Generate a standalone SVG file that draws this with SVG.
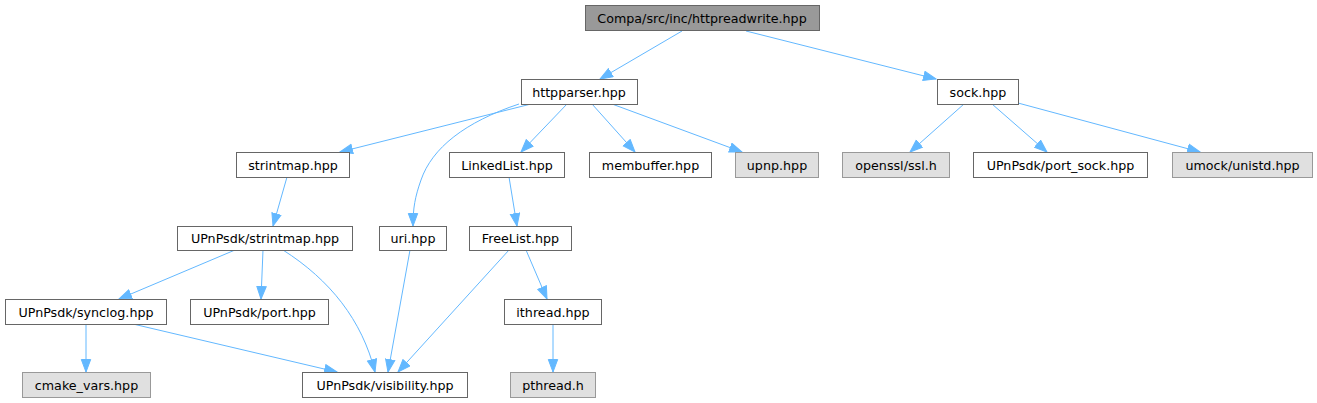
<svg xmlns="http://www.w3.org/2000/svg" width="1317" height="403" viewBox="0 0 1317 403">
<style>
.n rect{fill:#ffffff;stroke:#666666;stroke-width:1}
.n.g rect{fill:#e0e0e0;stroke:#999999}
.n.r rect{fill:#999999;stroke:#666666}
.n text{font-family:"DejaVu Sans",Verdana,sans-serif;font-size:12.7px;fill:#000000;text-anchor:middle}
#edges path{fill:none;stroke:#63b8ff;stroke-width:1;marker-end:url(#ah)}
</style>
<defs>
<marker id="ah" markerUnits="userSpaceOnUse" markerWidth="15" markerHeight="12" refX="13" refY="5.5" orient="auto">
<path d="M0.5,0.8 L13,5.5 L0.5,10.2 z" fill="#63b8ff" stroke="#63b8ff" stroke-width="1"/>
</marker>
</defs>
<rect width="1317" height="403" fill="#ffffff"/>
<g id="edges">
<path d="M682,31 L600,79"/>
<path d="M746,31 L936,79"/>
<path d="M531,104 L340,152"/>
<path d="M519,104 C465,122 432,148 421,180 C415,197 413,208 413,226"/>
<path d="M567,104 L521,152"/>
<path d="M592,104 L635,152"/>
<path d="M612,104 L742,152"/>
<path d="M287,177 L273,226"/>
<path d="M235,250 L119,299"/>
<path d="M263,250 L261,299"/>
<path d="M283,250 C330,280 362,320 375,372"/>
<path d="M410,250 L388,372"/>
<path d="M133,324 L337,372"/>
<path d="M86,324 L86,372"/>
<path d="M509,177 L517,226"/>
<path d="M509,250 L398,372"/>
<path d="M526,250 L547,299"/>
<path d="M553,324 L553,372"/>
<path d="M964,104 L910,152"/>
<path d="M992,104 L1047,152"/>
<path d="M1018,103 L1200,152"/>
</g>
<g id="n_root" class="n r"><rect x="585.5" y="5.5" width="234" height="25"/><text x="702" y="22.5">Compa/src/inc/httpreadwrite.hpp</text></g>
<g id="n_httpparser" class="n"><rect x="521.5" y="79.5" width="116" height="25"/><text x="579" y="96.5">httpparser.hpp</text></g>
<g id="n_sock" class="n"><rect x="937.5" y="79.5" width="81" height="25"/><text x="978" y="96.5">sock.hpp</text></g>
<g id="n_strintmap" class="n"><rect x="236.5" y="152.5" width="113" height="25"/><text x="293" y="169.5">strintmap.hpp</text></g>
<g id="n_linkedlist" class="n"><rect x="449.5" y="152.5" width="115" height="25"/><text x="507" y="169.5">LinkedList.hpp</text></g>
<g id="n_membuffer" class="n"><rect x="589.5" y="152.5" width="122" height="25"/><text x="650.5" y="169.5">membuffer.hpp</text></g>
<g id="n_upnp" class="n g"><rect x="735.5" y="152.5" width="83" height="25"/><text x="777" y="169.5">upnp.hpp</text></g>
<g id="n_openssl" class="n g"><rect x="842.5" y="152.5" width="107" height="25"/><text x="896" y="169.5">openssl/ssl.h</text></g>
<g id="n_portsock" class="n"><rect x="973.5" y="152.5" width="174" height="25"/><text x="1060.5" y="169.5">UPnPsdk/port_sock.hpp</text></g>
<g id="n_unistd" class="n g"><rect x="1172.5" y="152.5" width="140" height="25"/><text x="1242.5" y="169.5">umock/unistd.hpp</text></g>
<g id="n_sdkstrintmap" class="n"><rect x="177.5" y="226.5" width="175" height="24"/><text x="265" y="243">UPnPsdk/strintmap.hpp</text></g>
<g id="n_uri" class="n"><rect x="379.5" y="226.5" width="67" height="24"/><text x="413" y="243">uri.hpp</text></g>
<g id="n_freelist" class="n"><rect x="469.5" y="226.5" width="102" height="24"/><text x="520.5" y="243">FreeList.hpp</text></g>
<g id="n_synclog" class="n"><rect x="5.5" y="299.5" width="161" height="25"/><text x="86" y="316.5">UPnPsdk/synclog.hpp</text></g>
<g id="n_port" class="n"><rect x="190.5" y="299.5" width="138" height="25"/><text x="259.5" y="316.5">UPnPsdk/port.hpp</text></g>
<g id="n_ithread" class="n"><rect x="504.5" y="299.5" width="97" height="25"/><text x="553" y="316.5">ithread.hpp</text></g>
<g id="n_cmake" class="n g"><rect x="22.5" y="372.5" width="128" height="25"/><text x="86.5" y="389.5">cmake_vars.hpp</text></g>
<g id="n_visibility" class="n"><rect x="302.5" y="372.5" width="165" height="25"/><text x="385" y="389.5">UPnPsdk/visibility.hpp</text></g>
<g id="n_pthread" class="n g"><rect x="510.5" y="372.5" width="85" height="25"/><text x="553" y="389.5">pthread.h</text></g>
</svg>
